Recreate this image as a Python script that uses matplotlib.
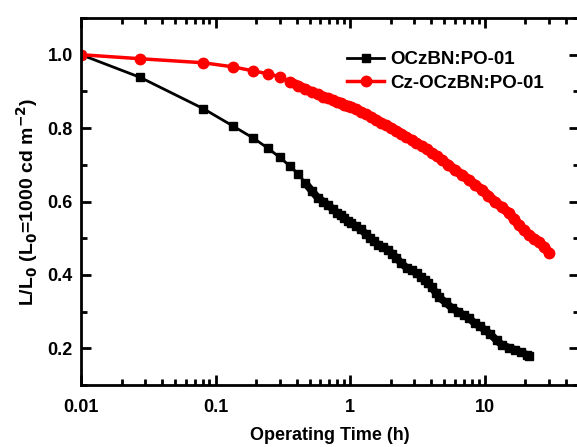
import numpy as np
import matplotlib
matplotlib.use('Agg')
import matplotlib.pyplot as plt
from matplotlib.ticker import LogLocator, MultipleLocator, FixedLocator

# OCzBN:PO-01 (black squares)
t_ocz = [0.01, 0.0276, 0.081, 0.134, 0.19, 0.245, 0.30, 0.355, 0.41, 0.465,
         0.52, 0.575, 0.63, 0.685, 0.74, 0.795, 0.85, 0.905, 0.96, 1.02,
         1.1, 1.2, 1.3, 1.4, 1.5, 1.62, 1.75, 1.92, 2.05, 2.2,
         2.4, 2.62, 2.85, 3.11, 3.35, 3.57, 3.8, 4.02, 4.3, 4.54,
         5.1, 5.68, 6.3, 7.0, 7.6, 8.4, 9.2, 10.0, 11.0, 12.2,
         13.4, 15.0, 16.7, 18.5, 20.6, 21.3]
L_ocz = [1.000, 0.938, 0.853, 0.806, 0.773, 0.745, 0.720, 0.697, 0.675, 0.650,
         0.628, 0.610, 0.600, 0.590, 0.580, 0.570, 0.562, 0.555, 0.548, 0.542,
         0.533, 0.524, 0.512, 0.501, 0.492, 0.482, 0.476, 0.468, 0.457, 0.446,
         0.432, 0.419, 0.412, 0.405, 0.395, 0.386, 0.377, 0.367, 0.352, 0.340,
         0.325, 0.310, 0.300, 0.290, 0.283, 0.268, 0.260, 0.250, 0.238, 0.222,
         0.209, 0.202, 0.196, 0.189, 0.182, 0.180]

# Cz-OCzBN:PO-01 (red circles)
t_cz = [0.01, 0.0276, 0.081, 0.134, 0.19, 0.245, 0.30, 0.355, 0.41, 0.465,
        0.52, 0.575, 0.63, 0.685, 0.74, 0.795, 0.85, 0.905, 0.96, 1.02,
        1.1, 1.2, 1.3, 1.43, 1.56, 1.7, 1.85, 2.02, 2.2, 2.4,
        2.6, 2.85, 3.1, 3.39, 3.7, 4.02, 4.4, 4.78, 5.35, 5.97,
        6.8, 7.6, 8.5, 9.5, 10.6, 11.9, 13.4, 15.1, 16.5, 17.9,
        19.5, 21.3, 23.3, 25.3, 27.5, 30.1]
L_cz = [1.000, 0.989, 0.978, 0.967, 0.956, 0.948, 0.940, 0.926, 0.916, 0.906,
        0.898, 0.892, 0.886, 0.881, 0.876, 0.872, 0.869, 0.864, 0.861, 0.858,
        0.852, 0.845, 0.838, 0.831, 0.823, 0.815, 0.808, 0.801, 0.793, 0.785,
        0.777, 0.768, 0.760, 0.752, 0.742, 0.733, 0.723, 0.714, 0.700, 0.686,
        0.672, 0.659, 0.645, 0.632, 0.616, 0.599, 0.584, 0.569, 0.552, 0.536,
        0.522, 0.509, 0.499, 0.490, 0.476, 0.460]

plt.rcParams['font.family'] = 'Liberation Sans'
plt.rcParams['font.weight'] = 'bold'

fig = plt.figure(figsize=(5.77, 4.47), dpi=100)
ax = fig.add_axes([81/577, 1-385/447, 498/577, 367/447])

ax.plot(t_ocz, L_ocz, color='black', lw=2, marker='s', ms=6, label='OCzBN:PO-01')
ax.plot(t_cz, L_cz, color='red', lw=2.5, marker='o', ms=7.5, label='Cz-OCzBN:PO-01')
# dense part of the measurement: markers merge into a thick band
ax.plot(t_ocz[9:], L_ocz[9:], color='black', lw=5.5, solid_capstyle='round')
ax.plot(t_cz[7:], L_cz[7:], color='red', lw=7, solid_capstyle='round')

ax.set_xscale('log')
ax.set_xlim(0.01, 50)
ax.set_ylim(0.1, 1.1)
ax.xaxis.set_major_locator(FixedLocator([0.01, 0.1, 1, 10]))
ax.set_xticklabels(['0.01', '0.1', '1', '10'])
ax.xaxis.set_minor_locator(LogLocator(base=10, subs=np.arange(2, 10)))
ax.xaxis.set_minor_formatter(plt.NullFormatter())
ax.yaxis.set_major_locator(FixedLocator([0.2, 0.4, 0.6, 0.8, 1.0]))
ax.yaxis.set_minor_locator(MultipleLocator(0.1))

for s in ax.spines.values():
    s.set_linewidth(2)
ax.tick_params(which='both', direction='in', top=True, right=True, width=2, labelsize=13)
ax.tick_params(axis='x', pad=10)
ax.tick_params(axis='y', pad=6)
ax.tick_params(which='major', length=7)
ax.tick_params(which='minor', length=4)

ax.set_xlabel('Operating Time (h)', fontsize=13, fontweight='bold', labelpad=8)
ax.set_ylabel(r'L/L$_\mathbf{0}$ (L$_\mathbf{0}$=1000 cd m$^\mathbf{-2}$)', fontsize=14, fontweight='bold', labelpad=5)

ax.legend(loc='upper left', bbox_to_anchor=(0.534, 0.91), frameon=False, fontsize=13.5,
          handlelength=2.0, handletextpad=0.3, labelspacing=0.35, borderaxespad=0, borderpad=0)

fig.savefig('out.png', dpi=100)
